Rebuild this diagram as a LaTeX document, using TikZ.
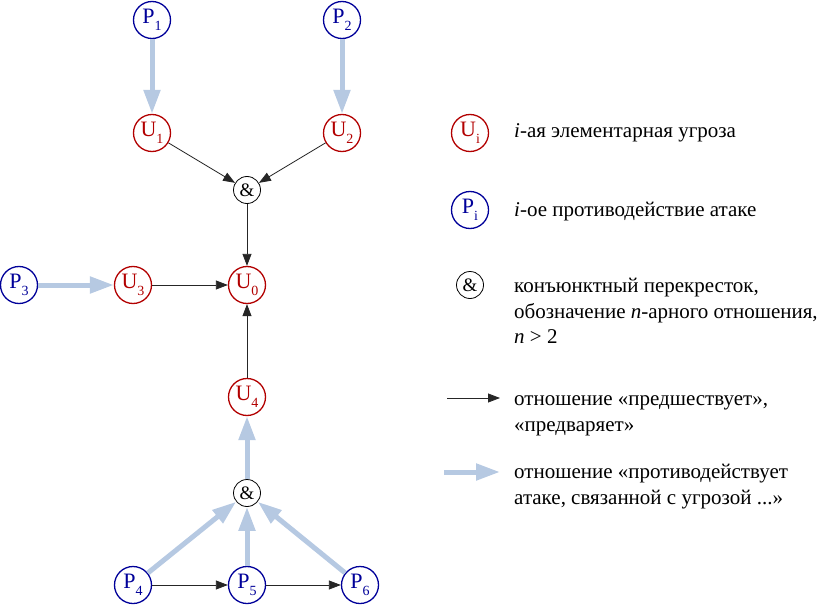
\documentclass[tikz,border=0pt]{standalone}
\usepackage{fontspec}
\setmainfont{Liberation Serif}
\newfontfamily\fa{Liberation Serif}
\usetikzlibrary{arrows.meta}
\colorlet{ured}{red!70!black}
\colorlet{pblue}{blue!60!black}
\definecolor{lblue}{RGB}{182,201,226}
\newcommand\nsub[1]{\raisebox{-0.3em}{\fa\fontsize{14}{14}\selectfont #1}}
\begin{document}
\begin{tikzpicture}[x=1pt,y=-1pt,font=\fa,
  unode/.style={circle,draw=ured,text=ured,line width=1.3pt,minimum size=37pt,inner sep=0pt},
  pnode/.style={circle,draw=pblue,text=pblue,line width=1.3pt,minimum size=37pt,inner sep=0pt},
  andnode/.style={circle,draw=black,line width=0.8pt,minimum size=27pt,inner sep=0pt},
  prec/.style={-{Triangle[length=12pt,width=9pt]},line width=0.8pt,draw=black!85},
  counter/.style={-{Triangle[length=24pt,width=16pt]},line width=5pt,draw=lblue},
  legtext/.style={anchor=base west,inner sep=0pt}
]
\useasboundingbox (0,0) rectangle (827,607);
% main graph
\node[pnode,font=\fa\fontsize{22}{22}\selectfont] (p1) at (152,20) {P\nsub{1}};
\node[pnode,font=\fa\fontsize{22}{22}\selectfont] (p2) at (342,20) {P\nsub{2}};
\node[unode,font=\fa\fontsize{22}{22}\selectfont] (u1) at (152,133) {U\nsub{1}};
\node[unode,font=\fa\fontsize{22}{22}\selectfont] (u2) at (342,133) {U\nsub{2}};
\node[andnode,font=\fa\fontsize{19}{19}\selectfont] (a1) at (247,190) {\&};
\node[unode,font=\fa\fontsize{22}{22}\selectfont] (u0) at (247,285) {U\nsub{0}};
\node[unode,font=\fa\fontsize{22}{22}\selectfont] (u3) at (133,285) {U\nsub{3}};
\node[pnode,font=\fa\fontsize{22}{22}\selectfont] (p3) at (19,285) {P\nsub{3}};
\node[unode,font=\fa\fontsize{22}{22}\selectfont] (u4) at (247,397) {U\nsub{4}};
\node[andnode,font=\fa\fontsize{19}{19}\selectfont] (a2) at (247,493) {\&};
\node[pnode,font=\fa\fontsize{22}{22}\selectfont] (p4) at (133,585) {P\nsub{4}};
\node[pnode,font=\fa\fontsize{22}{22}\selectfont] (p5) at (247,585) {P\nsub{5}};
\node[pnode,font=\fa\fontsize{22}{22}\selectfont] (p6) at (360,585) {P\nsub{6}};

\draw[counter] (p1) -- (u1);
\draw[counter] (p2) -- (u2);
\draw[counter] (p3) -- (u3);
\draw[prec] (u1) -- (a1);
\draw[prec] (u2) -- (a1);
\draw[prec] (a1) -- (u0);
\draw[prec] (u3) -- (u0);
\draw[prec] (u4) -- (u0);
\draw[counter] (a2) -- (u4);
\draw[counter] (p4) -- (a2);
\draw[counter] (p5) -- (a2);
\draw[counter] (p6) -- (a2);
\draw[prec] (p4) -- (p5);
\draw[prec] (p5) -- (p6);

% legend
\node[unode,font=\fa\fontsize{22}{22}\selectfont] (lu) at (470,133) {U\nsub{i}};
\node[pnode,font=\fa\fontsize{22}{22}\selectfont] (lp) at (470,210) {P\nsub{i}};
\node[andnode,font=\fa\fontsize{19}{19}\selectfont] (la) at (470,285) {\&};
\coordinate (lb1) at (447,398);
\coordinate (lb2) at (500,398);
\coordinate (lc1) at (444,472);
\coordinate (lc2) at (500,472);
\draw[prec] (lb1) -- (lb2);
\draw[counter] (lc1) -- (lc2);

\node[legtext,font=\fa\fontsize{21}{25}\selectfont] (t1) at (514,138) {{\itshape i}-ая элементарная угроза};
\node[legtext,font=\fa\fontsize{21}{25}\selectfont] (t2) at (514,216) {{\itshape i}-ое противодействие атаке};
\node[legtext,font=\fa\fontsize{21}{25}\selectfont] (t3a) at (514,292) {конъюнктный перекресток,};
\node[legtext,font=\fa\fontsize{21}{25}\selectfont] (t3b) at (514,318) {обозначение {\itshape n}-арного отношения,};
\node[legtext,font=\fa\fontsize{21}{25}\selectfont] (t3c) at (514,343) {{\itshape n} > 2};
\node[legtext,font=\fa\fontsize{21}{25}\selectfont] (t4a) at (514,405) {отношение «предшествует»,};
\node[legtext,font=\fa\fontsize{21}{25}\selectfont] (t4b) at (514,431) {«предваряет»};
\node[legtext,font=\fa\fontsize{21}{25}\selectfont] (t5a) at (514,478) {отношение «противодействует};
\node[legtext,font=\fa\fontsize{21}{25}\selectfont] (t5b) at (514,504) {атаке, связанной с угрозой ...»};
\end{tikzpicture}
\end{document}
